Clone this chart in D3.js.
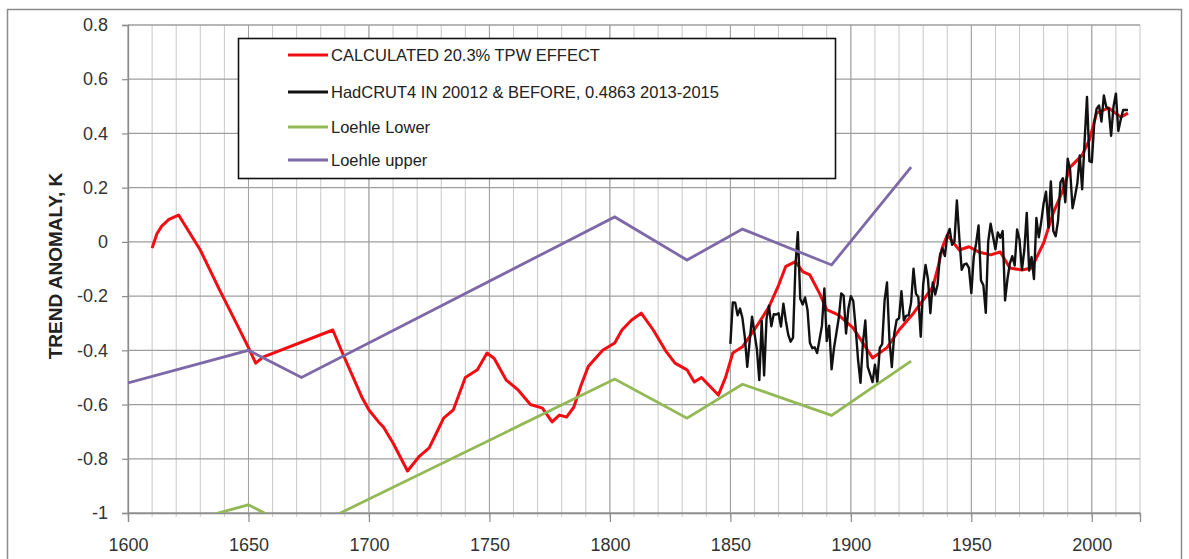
<!DOCTYPE html>
<html>
<head>
<meta charset="utf-8">
<script src="https://cdn.jsdelivr.net/npm/d3@7/dist/d3.min.js"></script>
<style>
  html, body { margin: 0; padding: 0; background: #fff; }
  svg { display: block; font-family: "Liberation Sans", Arial, sans-serif; }
</style>
</head>
<body>
<svg id="chart" width="1189" height="559"></svg>
<script>
// Calculated 20.3% TPW effect: [year, anomaly K]
const calcYears = [1610,1612,1614,1617,1621,1630,1638,1646,1650,1653,1656,1685,1689,1697,1700,1704,1706,1710,1716,1721,1725,1728,1731,1735,1740,1745,1749,1752,1757,1762,1767,1772,1776,1779,1782,1785,1788,1791,1797,1802,1805,1809,1813,1818,1823,1827,1832,1835,1838,1841,1845,1848,1851,1855,1861,1866,1870,1873,1877,1880,1883,1887,1890,1895,1901,1906,1909,1915,1920,1926,1931,1934,1936,1938,1940,1945,1949,1953,1958,1962,1966,1971,1975,1980,1984,1988,1991,1996,1999,2002,2007,2012,2015];
const calcValues = [-0.023,0.03,0.058,0.083,0.099,-0.03,-0.177,-0.318,-0.39,-0.447,-0.425,-0.325,-0.41,-0.572,-0.62,-0.664,-0.683,-0.742,-0.845,-0.79,-0.76,-0.705,-0.65,-0.62,-0.50,-0.472,-0.41,-0.43,-0.51,-0.547,-0.60,-0.613,-0.664,-0.639,-0.646,-0.61,-0.53,-0.46,-0.40,-0.373,-0.325,-0.288,-0.263,-0.325,-0.40,-0.447,-0.472,-0.517,-0.50,-0.528,-0.565,-0.50,-0.41,-0.387,-0.31,-0.24,-0.16,-0.09,-0.073,-0.11,-0.122,-0.19,-0.25,-0.27,-0.318,-0.387,-0.428,-0.39,-0.325,-0.263,-0.203,-0.166,-0.10,-0.02,0.025,-0.03,-0.018,-0.037,-0.048,-0.037,-0.096,-0.104,-0.096,-0.004,0.107,0.19,0.276,0.32,0.376,0.475,0.494,0.46,0.475];

// HadCRUT4 annual anomalies 1850-2015 (2013-2015 held at 0.4863)
const hadFirstYear = 1850;
const hadValues = [
  -0.376,-0.223,-0.224,-0.271,-0.246,-0.281,-0.352,-0.461,-0.367,-0.276,
  -0.337,-0.396,-0.510,-0.292,-0.493,-0.284,-0.235,-0.311,-0.267,-0.268,
  -0.263,-0.312,-0.228,-0.290,-0.342,-0.368,-0.353,-0.087,0.036,-0.210,
  -0.231,-0.205,-0.250,-0.372,-0.392,-0.389,-0.410,-0.360,-0.309,-0.172,
  -0.366,-0.309,-0.470,-0.392,-0.336,-0.279,-0.190,-0.198,-0.338,-0.245,
  -0.200,-0.218,-0.318,-0.436,-0.520,-0.373,-0.290,-0.461,-0.488,-0.517,
  -0.453,-0.517,-0.391,-0.377,-0.216,-0.150,-0.360,-0.462,-0.340,-0.288,
  -0.282,-0.182,-0.290,-0.272,-0.271,-0.223,-0.099,-0.191,-0.204,-0.350,
  -0.159,-0.085,-0.137,-0.263,-0.150,-0.194,-0.157,-0.047,-0.024,-0.052,
  0.023,0.048,-0.011,0.002,0.153,0.017,-0.103,-0.083,-0.080,-0.096,
  -0.189,-0.055,-0.005,0.061,-0.142,-0.160,-0.262,0.001,0.067,0.020,
  -0.027,0.035,0.015,0.040,-0.216,-0.137,-0.079,-0.053,-0.087,0.046,
  0.008,-0.103,-0.029,0.107,-0.106,-0.056,-0.137,0.088,0.017,0.074,
  0.142,0.185,0.053,0.223,0.041,0.021,0.079,0.220,0.235,0.146,
  0.307,0.265,0.124,0.167,0.216,0.319,0.194,0.370,0.535,0.298,
  0.294,0.438,0.491,0.503,0.444,0.540,0.498,0.491,0.391,0.499,
  0.547,0.409,0.451,0.4863,0.4863,0.4863
];

// Loehle reconstruction bounds: knot years and values
const loehleYears = [1600,1650,1672,1802,1832,1855,1892,1925];
const loehleLower = [-1.09,-0.97,-1.07,-0.506,-0.65,-0.525,-0.64,-0.44];
const loehleUpper = [-0.52,-0.40,-0.50,0.092,-0.067,0.047,-0.085,0.276];

// Axis ticks
const xMajorTicks = [1600,1650,1700,1750,1800,1850,1900,1950,2000];
const xMinorTicks = d3.range(1600, 2021, 10);
const yTicks = [-1,-0.8,-0.6,-0.4,-0.2,0,0.2,0.4,0.6,0.8];

const seriesNames = [
  "CALCULATED 20.3% TPW EFFECT",
  "HadCRUT4 IN 20012 & BEFORE, 0.4863 2013-2015",
  "Loehle Lower",
  "Loehle upper"
];
const seriesColors = ["#f20d12", "#111111", "#93b956", "#7d69a8"];

const svg = d3.select("#chart");
const x = d3.scaleLinear().domain([1600, 2020]).range([128, 1140]);
const y = d3.scaleLinear().domain([-1, 0.8]).range([513, 25]);

// outer chart frame
svg.append("rect")
  .attr("x", 7.5).attr("y", 9.5).attr("width", 1174).attr("height", 570)
  .attr("fill", "#fff").attr("stroke", "#8c8c8c").attr("stroke-width", 1.5);

// gridlines
const grid = svg.append("g");
grid.selectAll("line.minor").data(xMinorTicks).join("line")
  .attr("class", "minor")
  .attr("x1", d => x(d)).attr("x2", d => x(d))
  .attr("y1", y(0.8)).attr("y2", y(-1) + 4)
  .attr("stroke", "#c8c8c8").attr("stroke-width", 1);
grid.selectAll("line.major").data(xMajorTicks).join("line")
  .attr("class", "major")
  .attr("x1", d => x(d)).attr("x2", d => x(d))
  .attr("y1", y(0.8)).attr("y2", y(-1))
  .attr("stroke", "#a0a0a0").attr("stroke-width", 1);
grid.selectAll("line.h").data(yTicks).join("line")
  .attr("class", "h")
  .attr("x1", x(1600)).attr("x2", x(2020))
  .attr("y1", d => y(d)).attr("y2", d => y(d))
  .attr("stroke", "#9e9e9e").attr("stroke-width", 1.3);

// axes
const fmt = d => String(Math.round(d * 10) / 10);
const xAxis = svg.append("g")
  .attr("transform", `translate(0,${y(-1)})`)
  .call(d3.axisBottom(x).tickValues(xMajorTicks).tickFormat(d3.format("d"))
    .tickSize(9).tickPadding(16));
const yAxis = svg.append("g")
  .attr("transform", `translate(${x(1600)},0)`)
  .call(d3.axisLeft(y).tickValues(yTicks).tickFormat(fmt)
    .tickSize(6).tickPadding(14));
[xAxis, yAxis].forEach(g => {
  g.select(".domain").attr("stroke", "#8c8c8c").attr("stroke-width", 1.3);
  g.selectAll(".tick line").attr("stroke", "#8c8c8c").attr("stroke-width", 1.2);
  g.selectAll("text").attr("fill", "#333").style("font-size", "18px")
    .style("font-family", "'Liberation Sans', Arial, sans-serif");
});

// y axis title
svg.append("text")
  .attr("transform", "translate(62,266) rotate(-90)")
  .attr("text-anchor", "middle")
  .style("font-size", "19px").style("font-weight", "bold").attr("fill", "#222")
  .text("TREND ANOMALY, K");

// plotting area clip
svg.append("clipPath").attr("id", "plotClip")
  .append("rect").attr("x", x(1600)).attr("y", y(0.8) - 3)
  .attr("width", x(2020) - x(1600)).attr("height", y(-1) - y(0.8) + 3);

const line = d3.line().x(d => x(d[0])).y(d => y(d[1]));
const plot = svg.append("g").attr("clip-path", "url(#plotClip)");

const calcData = calcYears.map((yr, i) => [yr, calcValues[i]]);
const hadData = hadValues.map((v, i) => [hadFirstYear + i, v]);
const lowerData = loehleYears.map((yr, i) => [yr, loehleLower[i]]);
const upperData = loehleYears.map((yr, i) => [yr, loehleUpper[i]]);

plot.append("path").datum(calcData).attr("d", line)
  .attr("fill", "none").attr("stroke", seriesColors[0]).attr("stroke-width", 3)
  .attr("stroke-linejoin", "round");
plot.append("path").datum(hadData).attr("d", line)
  .attr("fill", "none").attr("stroke", seriesColors[1]).attr("stroke-width", 2.4)
  .attr("stroke-linejoin", "round");
plot.append("path").datum(lowerData).attr("d", line)
  .attr("fill", "none").attr("stroke", seriesColors[2]).attr("stroke-width", 2.8);
plot.append("path").datum(upperData).attr("d", line)
  .attr("fill", "none").attr("stroke", seriesColors[3]).attr("stroke-width", 2.8);

// legend
const legend = svg.append("g");
legend.append("rect")
  .attr("x", 238.5).attr("y", 38.5).attr("width", 597).attr("height", 140)
  .attr("fill", "#fff").attr("stroke", "#111").attr("stroke-width", 1.6);
const rowY = [55, 92, 127, 160];
seriesNames.forEach((name, i) => {
  legend.append("line")
    .attr("x1", 288).attr("x2", 328).attr("y1", rowY[i]).attr("y2", rowY[i])
    .attr("stroke", seriesColors[i]).attr("stroke-width", 3);
  legend.append("text")
    .attr("x", 331).attr("y", rowY[i] + 6)
    .style("font-size", "16.5px").attr("fill", "#222")
    .text(name);
});
</script>
</body>
</html>
